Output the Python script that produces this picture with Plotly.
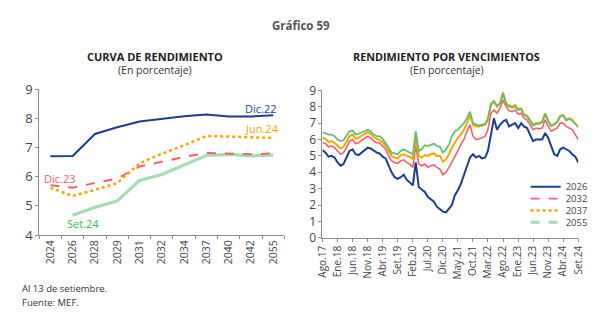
import plotly.graph_objects as go
import pandas as pd

# ---------------- Left chart: yield curve ----------------
maturities = ["2024", "2026", "2028", "2029", "2031", "2032", "2034", "2037", "2040", "2042", "2055"]
dic22 = [6.70, 6.71, 7.47, 7.70, 7.90, 7.99, 8.08, 8.14, 8.07, 8.07, 8.11]
dic23 = [5.71, 5.62, 5.79, 5.94, 6.35, 6.52, 6.68, 6.82, 6.80, 6.77, 6.80]
jun24 = [5.62, 5.34, 5.55, 5.78, 6.46, 6.79, 7.08, 7.40, 7.38, 7.35, 7.33]
set24 = [None, 4.68, 4.95, 5.17, 5.87, 6.08, 6.41, 6.73, 6.77, 6.72, 6.74]

# ---------------- Right chart: yields by maturity (monthly readings) ----------------
start_month = "2017-08-01"
y2026 = [5.35, 5.2, 4.95, 5.0, 4.9, 4.6, 4.4, 4.5, 4.9, 5.3, 5.4, 5.1, 5.05, 5.2, 5.35, 5.5, 5.45, 5.3, 5.2, 5.15,
         4.95, 4.85, 4.4, 4.0, 3.7, 3.6, 3.7, 3.85, 3.55, 3.4, 3.2, 4.6, 3.1, 2.95, 2.8, 2.5, 2.35, 2.2, 1.9, 1.75,
         1.6, 1.55, 1.8, 2.0, 2.6, 2.9, 3.3, 3.8, 4.3, 4.9, 5.1, 4.9, 5.0, 4.85, 4.9, 5.3, 6.3, 7.3, 6.6, 6.9,
         7.1, 7.2, 6.8, 6.9, 7.0, 6.7, 7.0, 6.8, 6.7, 6.3, 5.9, 6.0, 6.0, 6.0, 6.4, 6.1, 5.6, 5.1, 5.0, 5.4,
         5.5, 5.4, 5.3, 5.1, 4.95, 4.6]
y2032 = [5.8, 5.75, 5.55, 5.6, 5.5, 5.3, 5.1, 5.2, 5.5, 5.9, 6.0, 5.75, 5.8, 5.95, 6.1, 6.2, 6.1, 5.9, 5.8, 5.8,
         5.6, 5.4, 5.0, 4.7, 4.6, 4.55, 4.7, 4.75, 4.6, 4.5, 4.3, 5.6, 4.5, 4.4, 4.5, 4.3, 4.4, 4.45, 4.3, 4.2,
         3.85, 4.0, 4.3, 4.6, 5.0, 5.3, 5.7, 6.0, 6.5, 6.9, 6.2, 6.0, 6.05, 6.1, 6.2, 6.6, 7.6, 7.8, 7.6, 7.9,
         8.4, 8.0, 7.75, 7.7, 7.8, 7.55, 7.6, 7.3, 7.2, 6.9, 6.6, 6.7, 6.65, 6.7, 7.2, 6.8, 6.5, 6.6, 6.7, 7.0,
         7.0, 6.8, 6.7, 6.6, 6.3, 6.0]
y2037 = [6.1, 6.05, 5.85, 5.9, 5.8, 5.6, 5.45, 5.55, 5.85, 6.2, 6.3, 6.05, 6.1, 6.25, 6.35, 6.45, 6.35, 6.15, 6.05, 6.0,
         5.85, 5.6, 5.3, 5.0, 4.9, 4.85, 5.05, 5.1, 5.0, 4.95, 4.8, 6.1, 5.0, 4.9, 5.05, 5.0, 5.1, 5.15, 5.0, 5.0,
         4.65, 4.8, 5.1, 5.5, 5.8, 6.1, 6.3, 6.6, 7.0, 7.5, 6.9, 6.8, 6.8, 6.85, 6.9, 7.2, 8.1, 8.3, 8.0, 8.2,
         8.85, 8.2, 8.1, 8.0, 8.1, 7.85, 7.9, 7.55, 7.45, 7.2, 6.9, 7.0, 7.0, 7.1, 7.6, 7.15, 6.85, 6.95, 7.1, 7.45,
         7.5, 7.2, 7.3, 7.2, 7.0, 6.75]
y2055 = [6.45, 6.35, 6.3, 6.3, 6.2, 6.0, 5.9, 5.95, 6.2, 6.5, 6.55, 6.3, 6.35, 6.45, 6.55, 6.6, 6.5, 6.3, 6.2, 6.2,
         6.05, 5.8, 5.5, 5.2, 5.15, 5.1, 5.3, 5.4, 5.3, 5.2, 5.1, 6.5, 5.3, 5.4, 5.65, 5.6, 5.7, 5.75, 5.6, 5.55,
         5.2, 5.4, 5.7, 6.2, 6.5, 6.6, 6.8, 7.0, 7.3, 7.7, 7.0, 6.9, 6.85, 6.9, 6.95, 7.25, 8.2, 8.35, 8.05, 8.2,
         8.85, 8.1, 8.0, 7.95, 8.0, 7.8, 7.85, 7.5, 7.4, 7.15, 6.85, 6.95, 6.95, 7.05, 7.55, 7.1, 6.8, 6.9, 7.05, 7.4,
         7.45, 7.15, 7.25, 7.15, 6.95, 6.75]
date_ticklabels = ["Ago.17", "Ene.18", "Jun.18", "Nov.18", "Abr.19", "Set.19", "Feb.20", "Jul.20", "Dic.20",
                   "May.21", "Oct.21", "Mar.22", "Ago.22", "Ene.23", "Jun.23", "Nov.23", "Abr.24", "Set.24"]

dates = pd.date_range(start_month, periods=len(y2026), freq="MS")
tickdates = dates[::5]

FONT = "Open Sans"
NAVY = "#1c3d91"
RED = "#f0626a"
ORANGE = "#f6a500"
MINT = "#a6dcb3"
GREEN = "#66bf6c"
AXIS = "#8c8c8c"
TXT = "#444444"

fig = go.Figure()

# left traces
fig.add_trace(go.Scatter(x=maturities, y=dic22, mode="lines", line=dict(color=NAVY, width=2),
                         xaxis="x", yaxis="y", showlegend=False))
fig.add_trace(go.Scatter(x=maturities, y=set24, mode="lines", line=dict(color=MINT, width=3.2),
                         xaxis="x", yaxis="y", showlegend=False))
fig.add_trace(go.Scatter(x=maturities, y=dic23, mode="lines", line=dict(color=RED, width=2, dash="dash"),
                         xaxis="x", yaxis="y", showlegend=False))
fig.add_trace(go.Scatter(x=maturities, y=jun24, mode="lines", line=dict(color=ORANGE, width=2.5, dash="dot"),
                         xaxis="x", yaxis="y", showlegend=False))

# right traces
fig.add_trace(go.Scatter(x=dates, y=y2032, mode="lines", line=dict(color=RED, width=1.6),
                         xaxis="x2", yaxis="y2", showlegend=False))
fig.add_trace(go.Scatter(x=dates, y=y2037, mode="lines", line=dict(color=ORANGE, width=2),
                         xaxis="x2", yaxis="y2", showlegend=False))
fig.add_trace(go.Scatter(x=dates, y=y2055, mode="lines", line=dict(color=GREEN, width=1.8),
                         xaxis="x2", yaxis="y2", showlegend=False))
fig.add_trace(go.Scatter(x=dates, y=y2026, mode="lines", line=dict(color=NAVY, width=2),
                         xaxis="x2", yaxis="y2", showlegend=False))

# legend entries (one legend per entry to get tight spacing)
leg_entries = [("2026", NAVY, "solid", 2, "legend"),
               ("2032", RED, "dash", 1.6, "legend2"),
               ("2037", ORANGE, "dot", 2.5, "legend3"),
               ("2055", MINT, "dash", 3, "legend4")]
for name, col, dash, w, lg in leg_entries:
    fig.add_trace(go.Scatter(x=[None], y=[None], mode="lines", name=name,
                             line=dict(color=col, dash=dash, width=w),
                             xaxis="x2", yaxis="y2", legend=lg, showlegend=True))

H = 331.0
def py(p):
    return 1 - p / H

legend_common = dict(x=530 / 600, xanchor="left", yanchor="middle", bgcolor="rgba(0,0,0,0)",
                     font=dict(family=FONT, size=9.5, color=TXT), itemwidth=30)

fig.update_layout(
    width=600, height=331,
    margin=dict(l=0, r=0, t=0, b=0),
    paper_bgcolor="white", plot_bgcolor="white",
    font=dict(family=FONT, color=TXT),
    xaxis=dict(domain=[32 / 600, 283 / 600], type="category", range=[-0.5, 10.5],
               showline=True, linecolor=AXIS, linewidth=1, ticks="outside", tickson="boundaries",
               ticklen=3, tickcolor=AXIS, tickangle=-90, tickfont=dict(size=10.5, color=TXT),
               showgrid=False, zeroline=False, anchor="y"),
    yaxis=dict(domain=[py(239), py(85)], range=[4, 9], dtick=1, showline=True, linecolor=AXIS,
               linewidth=1, ticks="outside", ticklen=3, tickcolor=AXIS, tickfont=dict(size=13, color=TXT),
               showgrid=False, zeroline=False, anchor="x"),
    xaxis2=dict(domain=[322 / 600, 584 / 600], type="date", range=[dates[0], dates[-1]],
                tickvals=list(tickdates), ticktext=date_ticklabels,
                showline=True, linecolor=AXIS, linewidth=1, ticks="outside", ticklen=3, tickcolor=AXIS,
                tickangle=-90, tickfont=dict(size=10, color=TXT), showgrid=False, zeroline=False, anchor="y2"),
    yaxis2=dict(domain=[py(242), py(86)], range=[0, 9], dtick=1, showline=True, linecolor=AXIS,
                linewidth=1, ticks="outside", ticklen=3, tickcolor=AXIS, tickfont=dict(size=12, color=TXT),
                showgrid=False, zeroline=False, anchor="x2"),
    legend=dict(y=py(188), **legend_common),
    legend2=dict(y=py(200.5), **legend_common),
    legend3=dict(y=py(213), **legend_common),
    legend4=dict(y=py(225.5), **legend_common),
)

ann = []
def text(x, y, s, size, bold=False, color="#222222", xanchor="center", xref="paper", yref="paper"):
    ann.append(dict(x=x, y=y, xref=xref, yref=yref, text=("<b>%s</b>" % s) if bold else s,
                    showarrow=False, xanchor=xanchor, yanchor="middle",
                    font=dict(family=FONT, size=size, color=color)))

text(0.5, py(17), "Gráfico 59", 11.5, bold=True, color="#555555")
text(151 / 600, py(50), "CURVA DE RENDIMIENTO", 11, bold=True)
text(151 / 600, py(64), "(En porcentaje)", 10.5, color="#333333")
text(449 / 600, py(50), "RENDIMIENTO POR VENCIMIENTOS", 10.8, bold=True)
text(449 / 600, py(64), "(En porcentaje)", 10.5, color="#333333")
text(12 / 600, py(296), "Al 13 de setiembre.", 9.5, color="#333333", xanchor="left")
text(12 / 600, py(310), "Fuente: MEF.", 9.5, color="#333333", xanchor="left")

# series labels on the yield curve
ann.append(dict(x=9.45, y=8.35, xref="x", yref="y", text="Dic.22", showarrow=False,
                font=dict(family=FONT, size=11, color=NAVY)))
ann.append(dict(x=9.5, y=7.64, xref="x", yref="y", text="Jun.24", showarrow=False,
                font=dict(family=FONT, size=11, color=ORANGE)))
ann.append(dict(x=0.42, y=5.95, xref="x", yref="y", text="Dic.23", showarrow=False,
                font=dict(family=FONT, size=11, color=RED)))
ann.append(dict(x=1.47, y=4.39, xref="x", yref="y", text="Set.24", showarrow=False,
                font=dict(family=FONT, size=11, color="#3cb45a")))
fig.update_layout(annotations=ann)

fig.write_html("out.html")
